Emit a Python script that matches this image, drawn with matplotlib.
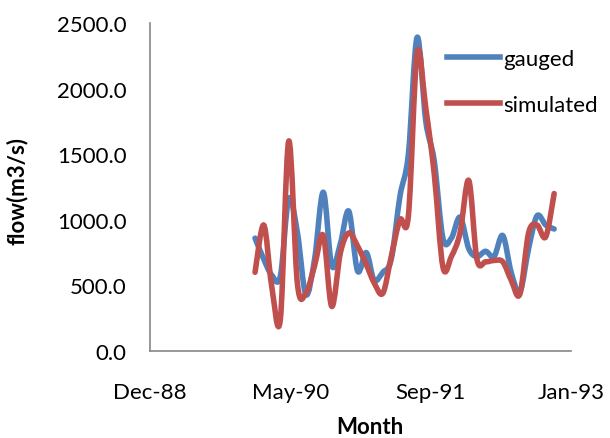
import numpy as np
import pandas as pd
import matplotlib
matplotlib.use('Agg')
from matplotlib import pyplot as plt
import matplotlib.dates as mdates
from matplotlib.path import Path
from matplotlib.patches import PathPatch
from matplotlib.lines import Line2D

# monthly flows, Jan 1990 - Dec 1992
months = pd.date_range('1990-01-01', periods=36, freq='MS')
gauged = [860, 700, 580, 570, 1160, 900, 430, 700, 1210, 650, 820, 1065,
          610, 750, 540, 600, 700, 1180, 1500, 2390, 1750, 1450, 860, 860,
          1020, 780, 720, 760, 720, 880, 600, 450, 780, 1030, 960, 930]
simulated = [600, 960, 500, 240, 1600, 510, 440, 650, 880, 340, 750, 900,
             800, 660, 520, 440, 720, 1000, 1030, 2270, 1850, 1350, 640, 720,
             900, 1300, 700, 680, 690, 680, 540, 434, 900, 960, 870, 1200]

# excel style date axis (serial 32500 .. 34000, step 500)
x_ticks = pd.to_datetime(['1988-12-23', '1990-05-07', '1991-09-19', '1993-01-30'])
y_ticks = [0, 500, 1000, 1500, 2000, 2500]

blue = '#4F81BD'
red = '#C0504D'
plt.rcParams['font.family'] = ['Lato', 'DejaVu Sans']
fs = 16


def smooth_path(x, y):
    # catmull-rom through the points, as excel's "smoothed line"
    pts = np.column_stack([x, y])
    verts = [pts[0]]
    codes = [Path.MOVETO]
    n = len(pts)
    for i in range(n - 1):
        p0 = pts[i - 1] if i > 0 else pts[i]
        p1 = pts[i]
        p2 = pts[i + 1]
        p3 = pts[i + 2] if i + 2 < n else pts[i + 1]
        verts += [p1 + (p2 - p0) / 6, p2 - (p3 - p1) / 6, p2]
        codes += [Path.CURVE4] * 3
    return Path(verts, codes)


fig = plt.figure(figsize=(6.1, 4.39), dpi=100)
ax = fig.add_axes([150 / 610, 1 - 352 / 439, 421 / 610, 328 / 439])

xn = mdates.date2num(months)
for vals, col in [(gauged, blue), (simulated, red)]:
    ax.add_patch(PathPatch(smooth_path(xn, np.array(vals, float)), fill=False,
                           edgecolor=col, lw=4, capstyle='round', joinstyle='round'))

ax.set_xlim(mdates.date2num(x_ticks[0]), mdates.date2num(x_ticks[-1]))
ax.set_ylim(0, 2500)
ax.set_xticks(mdates.date2num(x_ticks))
ax.xaxis.set_major_formatter(mdates.DateFormatter('%b-%y'))
ax.set_yticks(y_ticks)
ax.set_yticklabels(['%.1f' % v for v in y_ticks])
ax.tick_params(axis='both', length=0, labelsize=fs, colors='#000000')
ax.tick_params(axis='y', pad=17)
ax.tick_params(axis='x', pad=22)

for s in ['top', 'right']:
    ax.spines[s].set_visible(False)
for s in ['left', 'bottom']:
    ax.spines[s].set_color('#868686')
    ax.spines[s].set_linewidth(1.2)

ax.set_xlabel('Month', fontsize=fs, fontweight='bold')
ax.xaxis.set_label_coords(0.522, -0.198)
ax.set_ylabel('flow(m3/s)', fontsize=fs, fontweight='bold')
ax.yaxis.set_label_coords(-0.29, 0.49)

handles = [Line2D([], [], color=blue, lw=4), Line2D([], [], color=red, lw=4)]
fig.legend(handles, ['gauged', 'simulated'], loc='upper left',
           bbox_to_anchor=(447 / 610, 1 - 50 / 439), frameon=False, fontsize=fs,
           handlelength=2.4, handletextpad=0.15, labelspacing=1.15,
           borderpad=0, borderaxespad=0)

plt.savefig('out.png', dpi=100)
